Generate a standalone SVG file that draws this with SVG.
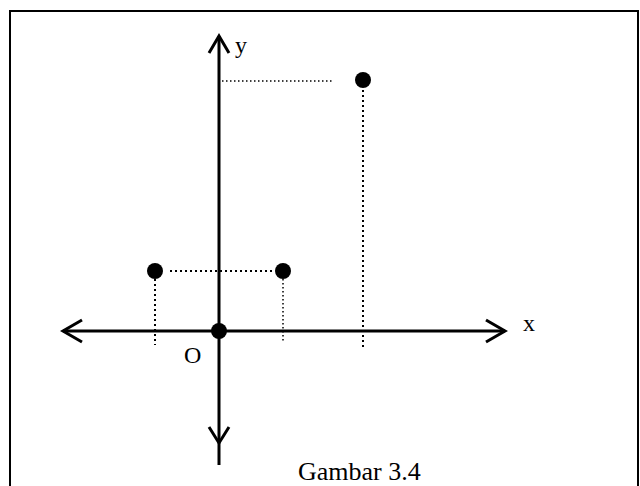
<svg xmlns="http://www.w3.org/2000/svg" width="640" height="486" viewBox="0 0 640 486">
<style>
.ax{stroke:#000;stroke-width:3;fill:none}
.dot{fill:#000}
.dl{stroke:#000;stroke-width:2;stroke-dasharray:2 3;fill:none}
.dl2{stroke:#000;stroke-width:1.5;stroke-dasharray:1.5 2.5;fill:none}
.t{font-family:"Liberation Serif",serif;font-size:24px;fill:#000}
</style>
<rect x="0" y="0" width="640" height="486" fill="#fff"/>
<rect x="10" y="11" width="628" height="490" fill="none" stroke="#000" stroke-width="2"/>
<g id="connectors">
<line class="dl2" x1="222" y1="81" x2="332" y2="81"/>
<line class="dl" x1="363" y1="90" x2="363" y2="349"/>
<line class="dl" x1="170" y1="271" x2="274" y2="271"/>
<line class="dl" x1="155" y1="279" x2="155" y2="345"/>
<line class="dl2" x1="283" y1="279" x2="283" y2="341"/>
</g>
<g id="y-axis">
<line class="ax" x1="219" y1="36" x2="219" y2="465"/>
<polyline class="ax" points="209,53 219,36 229,53"/>
<polyline class="ax" points="209,427 219,443 229,427"/>
<text class="t" x="235" y="53">y</text>
</g>
<g id="x-axis">
<line class="ax" x1="63" y1="331" x2="505" y2="331"/>
<polyline class="ax" points="82,320 63,331 82,342"/>
<polyline class="ax" points="486,320 505,331 486,342"/>
<text class="t" x="523" y="331">x</text>
</g>
<g id="origin"><circle class="dot" cx="219" cy="331" r="8"/><text class="t" x="184" y="363">O</text></g>
<g id="p1"><circle class="dot" cx="155" cy="271" r="8"/></g>
<g id="p2"><circle class="dot" cx="283" cy="271" r="8"/></g>
<g id="p3"><circle class="dot" cx="363" cy="80" r="8"/></g>
<text class="t" x="298" y="480" style="font-size:26px">Gambar 3.4</text>
</svg>
